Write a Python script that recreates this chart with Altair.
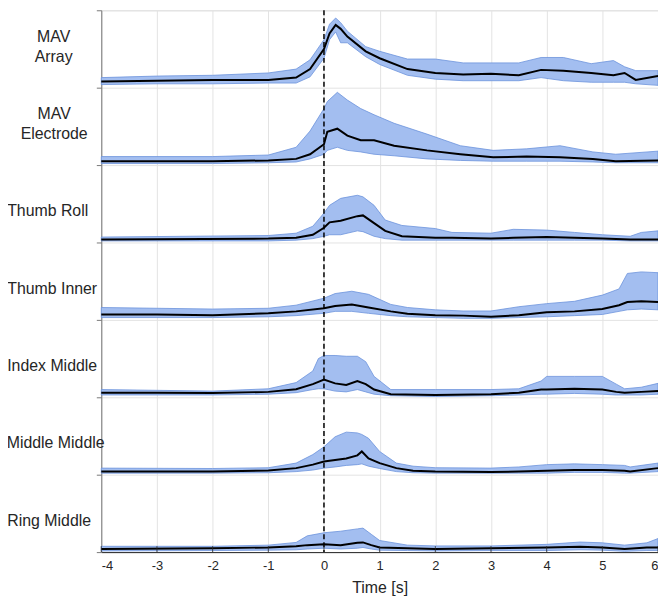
import altair as alt
import pandas as pd

TICKS = [-4, -3, -2, -1, 0, 1, 2, 3, 4, 5, 6]
ONSET = [0]
LABELS = ["MAV\nArray", "MAV\nElectrode", "Thumb Roll", "Thumb Inner",
          "Index Middle", "Middle Middle", "Ring Middle"]

# Panel 1: MAV Array
T1 = [-4, -3, -2, -1, -0.5, -0.25, 0, 0.1, 0.21, 0.3, 0.42, 0.75, 1.0, 1.5, 2.0, 2.5, 3.0, 3.5, 3.9, 4.3, 4.8, 5.2, 5.4, 5.6, 6]
M1 = [.08, .09, .10, .10, .13, .24, .50, .70, .81, .76, .66, .47, .38, .24, .19, .17, .18, .16, .23, .22, .19, .16, .19, .10, .15]
HI1 = [.13, .15, .16, .19, .24, .36, .62, .82, .90, .84, .73, .53, .47, .37, .37, .32, .32, .32, .39, .39, .31, .35, .27, .22, .22]
LO1 = [.04, .05, .05, .06, .06, .14, .38, .62, .72, .58, .58, .40, .30, .16, .11, .09, .09, .09, .13, .09, .07, .07, .07, .05, .03]

# Panel 2: MAV Electrode
T2 = [-4, -2, -1, -0.5, -0.25, 0, 0.06, 0.24, 0.42, 0.66, 0.9, 1.26, 1.85, 2.45, 3.04, 3.64, 4.24, 4.83, 5.24, 6]
M2 = [.05, .05, .06, .08, .14, .27, .43, .47, .38, .32, .32, .25, .19, .14, .10, .11, .10, .08, .05, .06]
HI2 = [.11, .11, .13, .23, .44, .73, .82, .94, .84, .73, .65, .54, .40, .25, .19, .21, .25, .17, .14, .18]
LO2 = [.02, .02, .03, .04, .08, .14, .19, .23, .19, .17, .14, .12, .08, .06, .05, .05, .05, .04, .03, .03]

# Panel 3: Thumb Roll
T3 = [-4, -1, -0.5, -0.2, 0, 0.1, 0.3, 0.6, 0.7, 0.9, 1.1, 1.4, 2.0, 2.3, 3.0, 3.4, 4.0, 4.5, 5.0, 5.5, 5.7, 6]
M3 = [.04, .05, .06, .10, .19, .26, .28, .34, .35, .25, .15, .08, .06, .06, .05, .06, .07, .06, .05, .04, .04, .04]
HI3 = [.07, .09, .12, .21, .38, .48, .57, .61, .59, .48, .29, .22, .18, .13, .12, .17, .16, .13, .10, .08, .13, .15]
LO3 = [.02, .02, .03, .05, .08, .10, .10, .15, .14, .08, .05, .03, .03, .03, .03, .03, .03, .03, .03, .02, .02, .02]

# Panel 4: Thumb Inner
T4 = [-4, -3, -2, -1, -0.5, 0, 0.2, 0.5, 0.8, 1.2, 1.5, 2, 2.5, 3, 3.5, 4, 4.5, 5, 5.3, 5.45, 5.7, 6]
M4 = [.07, .07, .06, .085, .11, .15, .18, .20, .16, .11, .08, .06, .055, .04, .06, .10, .11, .14, .19, .23, .24, .23]
HI4 = [.16, .15, .14, .15, .19, .28, .34, .37, .33, .20, .16, .13, .115, .115, .17, .21, .24, .32, .40, .60, .62, .61]
LO4 = [.03, .03, .03, .04, .055, .085, .11, .11, .085, .055, .04, .03, .02, .02, .03, .04, .055, .07, .11, .13, .14, .13]

# Panel 5: Index Middle
T5 = [-4, -3, -2, -1, -0.5, -0.2, -0.1, 0, 0.2, 0.4, 0.6, 0.75, 0.9, 1.2, 2, 3, 3.5, 3.9, 4.0, 4.5, 5.0, 5.25, 5.4, 5.7, 6]
M5 = [.06, .06, .055, .07, .105, .17, .20, .23, .18, .16, .21, .17, .10, .04, .03, .04, .06, .10, .10, .11, .10, .07, .06, .07, .08]
HI5 = [.10, .09, .08, .11, .19, .34, .50, .54, .54, .53, .53, .46, .27, .10, .10, .10, .11, .21, .27, .27, .27, .17, .11, .13, .18]
LO5 = [.03, .03, .03, .04, .06, .10, .11, .11, .08, .07, .10, .07, .04, .02, .01, .02, .03, .04, .04, .05, .04, .03, .03, .03, .04]

# Panel 6: Middle Middle
T6 = [-4, -2, -1, -0.5, -0.2, 0, 0.2, 0.4, 0.6, 0.68, 0.8, 1.0, 1.3, 1.6, 2, 3, 3.5, 4, 4.5, 5, 5.4, 5.5, 6]
M6 = [.04, .04, .055, .085, .13, .17, .19, .21, .25, .30, .21, .15, .085, .05, .04, .035, .04, .05, .06, .06, .05, .04, .085]
HI6 = [.085, .08, .09, .15, .26, .36, .49, .55, .54, .52, .47, .30, .15, .11, .09, .085, .10, .13, .14, .13, .12, .10, .15]
LO6 = [.02, .02, .025, .04, .06, .085, .10, .12, .13, .14, .11, .08, .04, .025, .02, .02, .02, .02, .03, .03, .02, .02, .04]

# Panel 7: Ring Middle
T7 = [-4, -2, -1, -0.5, -0.3, 0, 0.3, 0.6, 0.7, 0.85, 1.0, 1.5, 2, 3, 4, 4.6, 5, 5.4, 5.8, 6]
M7 = [.04, .05, .06, .075, .09, .10, .09, .12, .125, .09, .06, .05, .04, .05, .06, .07, .06, .04, .06, .06]
HI7 = [.075, .075, .09, .125, .21, .25, .27, .30, .31, .23, .15, .09, .08, .08, .10, .13, .12, .09, .12, .175]
LO7 = [.015, .02, .025, .03, .04, .05, .04, .05, .06, .04, .025, .02, .015, .02, .02, .03, .025, .01, .02, .02]

PANELS = [(T1, LO1, M1, HI1), (T2, LO2, M2, HI2), (T3, LO3, M3, HI3), (T4, LO4, M4, HI4),
          (T5, LO5, M5, HI5), (T6, LO6, M6, HI6), (T7, LO7, M7, HI7)]
N = len(PANELS)

rows = []
for k, (t, lo, m, hi) in enumerate(PANELS):
    for j in range(len(t)):
        rows.append({"panel": k, "t": t[j], "lo": lo[j], "mean": m[j], "hi": hi[j]})
df = pd.DataFrame(rows)

W, H = 561, 546
FONT = "Liberation Sans"
TXT = "#262626"
LAB_X = [-48, -47.5, -54, -49.5, -49.5, -46, -52.5]   # label centre, px left of axis
LAB_POS = [0.658, 0.658, 0.405, 0.405, 0.405, 0.405, 0.405]  # first line, fraction from panel bottom

xs = alt.Scale(domain=[-4, 6], nice=False, zero=False)
ys = alt.Scale(domain=[0, N], nice=False, zero=False)

xaxis = alt.Axis(values=TICKS, title="Time [s]", grid=True, gridColor="#e3e3e3",
                 domainColor=TXT, domainWidth=1, ticks=False, tickSize=0,
                 labelExpr="toString(datum.value)",
                 labelFontSize=13, labelPadding=8, labelColor=TXT, labelFont=FONT,
                 titleFontSize=16, titleFontWeight="normal", titleColor=TXT,
                 titleFont=FONT, titlePadding=7)
yaxis = alt.Axis(values=list(range(N + 1)), labels=False, grid=True, gridColor="#e3e3e3",
                 tickSize=5, tickColor="#7a7a7a", domainColor="#7a7a7a", title=None)

base = alt.Chart(df).transform_calculate(
    off=f"{N - 1} - datum.panel",
    ylo="datum.lo + datum.off",
    yhi="datum.hi + datum.off",
    ym="datum.mean + datum.off",
)

band = base.mark_area(fill="#a3bef0", stroke="#6b93dc", strokeWidth=0.8, opacity=1).encode(
    x=alt.X("t:Q", scale=xs, axis=xaxis),
    y=alt.Y("ylo:Q", scale=ys, axis=yaxis),
    y2="yhi:Q",
    detail="panel:N",
)
line = base.mark_line(color="black", strokeWidth=2).encode(
    x=alt.X("t:Q", scale=xs, axis=xaxis),
    y=alt.Y("ym:Q", scale=ys, axis=yaxis),
    detail="panel:N",
)
rule = alt.Chart(pd.DataFrame({"t": ONSET})).mark_rule(
    color="black", strokeWidth=1.5, strokeDash=[5, 3]).encode(
    x=alt.X("t:Q", scale=xs, axis=xaxis))
tk = alt.Chart(pd.DataFrame({"t": TICKS})).mark_rule(color=TXT, strokeWidth=0.8).encode(
    x=alt.X("t:Q", scale=xs, axis=xaxis),
    y=alt.value(H - 6), y2=alt.value(H))

layers = [band, line, rule, tk]
for k in range(N):
    lab = alt.Chart(pd.DataFrame({"label": [LABELS[k].split("\n")],
                                  "pos": [N - 1 - k + LAB_POS[k]]})).mark_text(
        font=FONT, fontSize=16, color=TXT, align="center", baseline="middle",
        lineHeight=20, x=LAB_X[k]).encode(
        y=alt.Y("pos:Q", scale=ys, axis=yaxis),
        text="label")
    layers.append(lab)

chart = alt.layer(*layers).properties(
    width=W, height=H,
    autosize=alt.AutoSizeParams(type="none"),
    padding={"left": 94, "top": 0, "right": 0, "bottom": 49},
).configure_view(stroke=None).configure(background="white")

chart.save("out.html", embed_options={"renderer": "svg", "actions": False})
